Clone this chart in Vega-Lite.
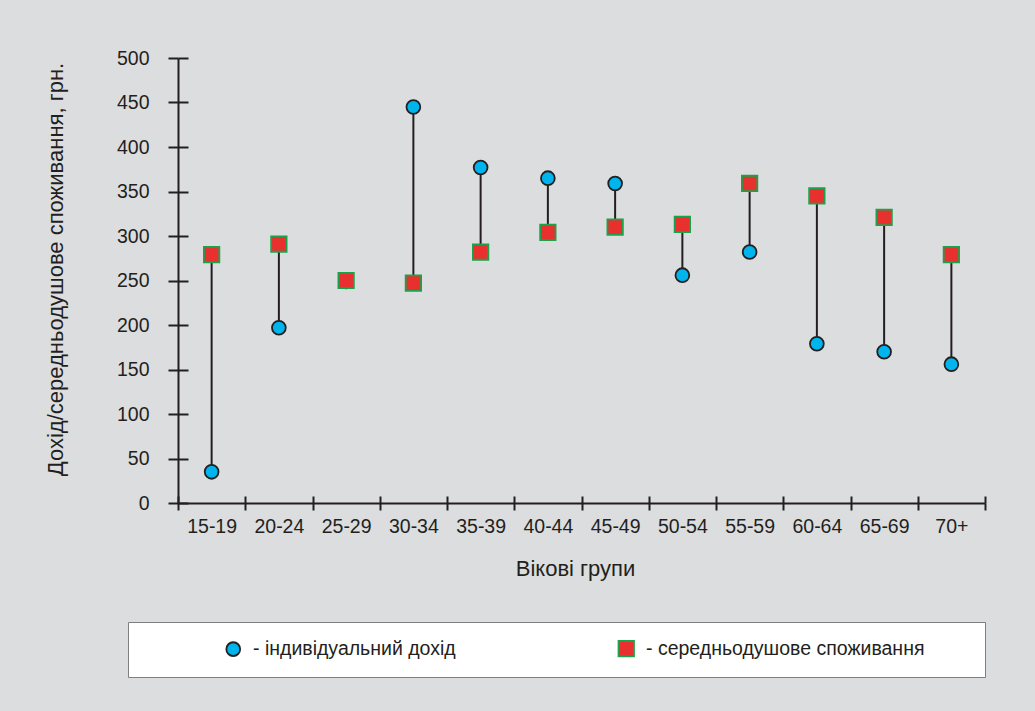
{
  "$schema": "https://vega.github.io/schema/vega-lite/v6.json",
  "width": 807,
  "height": 445,
  "autosize": {"type": "none"},
  "padding": {"left": 178, "top": 58, "right": 50, "bottom": 208},
  "background": "#dcdddf",
  "config": {
    "view": {"stroke": null},
    "font": "Liberation Sans",
    "axis": {"grid": false, "domainColor": "#231f20", "tickColor": "#231f20", "labelColor": "#231f20", "titleColor": "#231f20", "titleFontWeight": "normal"}
  },
  "data": {
    "values": [
      {"group": "15-19", "series": "індивідуальний дохід", "value": 35},
      {"group": "20-24", "series": "індивідуальний дохід", "value": 197},
      {"group": "25-29", "series": "індивідуальний дохід", "value": 249},
      {"group": "30-34", "series": "індивідуальний дохід", "value": 445},
      {"group": "35-39", "series": "індивідуальний дохід", "value": 377},
      {"group": "40-44", "series": "індивідуальний дохід", "value": 365},
      {"group": "45-49", "series": "індивідуальний дохід", "value": 359},
      {"group": "50-54", "series": "індивідуальний дохід", "value": 256},
      {"group": "55-59", "series": "індивідуальний дохід", "value": 282},
      {"group": "60-64", "series": "індивідуальний дохід", "value": 179},
      {"group": "65-69", "series": "індивідуальний дохід", "value": 170},
      {"group": "70+", "series": "індивідуальний дохід", "value": 156},
      {"group": "15-19", "series": "середньодушове споживання", "value": 279},
      {"group": "20-24", "series": "середньодушове споживання", "value": 291},
      {"group": "25-29", "series": "середньодушове споживання", "value": 250},
      {"group": "30-34", "series": "середньодушове споживання", "value": 247},
      {"group": "35-39", "series": "середньодушове споживання", "value": 282},
      {"group": "40-44", "series": "середньодушове споживання", "value": 304},
      {"group": "45-49", "series": "середньодушове споживання", "value": 310},
      {"group": "50-54", "series": "середньодушове споживання", "value": 313},
      {"group": "55-59", "series": "середньодушове споживання", "value": 359},
      {"group": "60-64", "series": "середньодушове споживання", "value": 345},
      {"group": "65-69", "series": "середньодушове споживання", "value": 321},
      {"group": "70+", "series": "середньодушове споживання", "value": 279}
    ]
  },
  "layer": [
    {
      "transform": [{"pivot": "series", "value": "value", "groupby": ["group"]}],
      "mark": {"type": "rule", "color": "#231f20", "strokeWidth": 2},
      "encoding": {
        "x": {
          "field": "group", "type": "nominal", "sort": null,
          "scale": {"paddingInner": 0, "paddingOuter": 0},
          "axis": {
            "orient": "bottom", "title": "Вікові групи", "labelAngle": 0, "tickBand": "extent",
            "tickSize": 7, "tickWidth": 2, "domainWidth": 2, "labelFontSize": 19.5, "labelPadding": 7,
            "titleFontSize": 22, "titlePadding": 23, "titleX": 397
          }
        },
        "y": {
          "field": "індивідуальний дохід", "type": "quantitative",
          "scale": {"domain": [0, 500]},
          "axis": {
            "orient": "left", "title": "Дохід/середньодушове споживання, грн.",
            "values": [0, 50, 100, 150, 200, 250, 300, 350, 400, 450, 500],
            "tickSize": 10, "tickWidth": 2, "domainWidth": 2, "labelFontSize": 19.5, "labelPadding": 19,
            "titleFontSize": 22, "titlePadding": 49, "titleY": 211
          }
        },
        "y2": {"field": "середньодушове споживання"}
      }
    },
    {
      "mark": {"type": "point", "filled": true, "opacity": 1, "strokeWidth": 1.8, "size": 190},
      "encoding": {
        "x": {
          "field": "group", "type": "nominal", "sort": null,
          "axis": {"orient": "bottom", "title": null, "labels": false, "domain": false, "tickBand": "extent", "tickSize": -7, "tickWidth": 2}
        },
        "y": {
          "field": "value", "type": "quantitative",
          "axis": {"orient": "left", "title": null, "labels": false, "domain": false, "values": [0, 50, 100, 150, 200, 250, 300, 350, 400, 450, 500], "tickSize": -10, "tickWidth": 2}
        },
        "fill": {
          "field": "series", "type": "nominal",
          "scale": {"domain": ["індивідуальний дохід", "середньодушове споживання"], "range": ["#00b4ee", "#e8302f"]},
          "legend": {
            "orient": "none", "legendX": -50, "legendY": 564, "direction": "horizontal", "columns": 2,
            "title": "\u00a0", "titleOrient": "left", "titlePadding": 79, "titleFontSize": 19.5,
            "padding": 16.5, "fillColor": "white", "strokeColor": "#7f7f7f",
            "symbolSize": 190, "symbolStrokeWidth": 1.8, "labelFontSize": 19.5, "labelColor": "#231f20",
            "labelOffset": 10, "columnPadding": 115, "labelLimit": 600,
            "labelExpr": "'- ' + datum.label + '\u00a0\u00a0\u00a0\u00a0\u00a0\u00a0\u00a0\u00a0\u200b'"
          }
        },
        "shape": {
          "field": "series", "type": "nominal",
          "scale": {"domain": ["індивідуальний дохід", "середньодушове споживання"], "range": ["circle", "M-1.12,-1.12H1.12V1.12H-1.12Z"]}
        },
        "stroke": {
          "field": "series", "type": "nominal",
          "scale": {"domain": ["індивідуальний дохід", "середньодушове споживання"], "range": ["#231f20", "#1ba24c"]}
        }
      }
    }
  ],
  "resolve": {"axis": {"x": "independent", "y": "independent"}}
}
